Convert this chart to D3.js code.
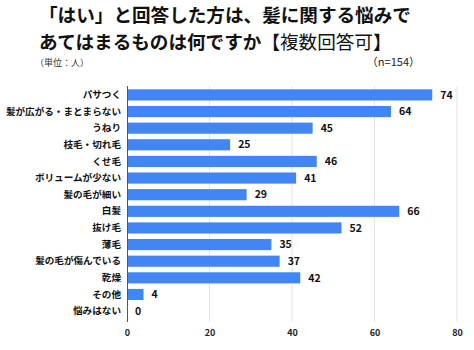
<!DOCTYPE html>
<html>
<head>
<meta charset="utf-8">
<script src="https://cdn.jsdelivr.net/npm/d3@7"></script>
<style>
  body { margin: 0; background: #fff; }
  text { font-family: "Noto Sans CJK JP", sans-serif; }
</style>
</head>
<body>
<script>
var categories = ["パサつく", "髪が広がる・まとまらない", "うねり", "枝毛・切れ毛", "くせ毛",
  "ボリュームが少ない", "髪の毛が細い", "白髪", "抜け毛", "薄毛", "髪の毛が傷んでいる",
  "乾燥", "その他", "悩みはない"];
var values = [74, 64, 45, 25, 46, 41, 29, 66, 52, 35, 37, 42, 4, 0];
var xTicks = [0, 20, 40, 60, 80];

var width = 474, height = 350;
var svg = d3.select("body").append("svg")
  .attr("width", width)
  .attr("height", height);

// title
svg.append("text")
  .attr("x", 39)
  .attr("y", 22)
  .attr("font-size", 18.6)
  .attr("font-weight", "bold")
  .attr("fill", "#111")
  .text("「はい」と回答した方は、髪に関する悩みで");

var title2 = svg.append("text")
  .attr("x", 39)
  .attr("y", 49)
  .attr("font-size", 18.6)
  .attr("fill", "#111");
title2.append("tspan").attr("font-weight", "bold").text("あてはまるものは何ですか");
title2.append("tspan").text("【複数回答可】");

svg.append("text")
  .attr("x", 35)
  .attr("y", 66)
  .attr("font-size", 9)
  .attr("fill", "#333")
  .text("（単位：人）");

svg.append("text")
  .attr("x", 420)
  .attr("y", 66)
  .attr("text-anchor", "end")
  .attr("font-size", 11)
  .attr("fill", "#222")
  .text("（n=154）");

var xScale = d3.scaleLinear()
  .domain([0, 80])
  .range([127, 457]);

var yScale = d3.scaleBand()
  .domain(categories)
  .range([86, 320])
  .paddingInner(0.33)
  .paddingOuter(0.2);

// gridlines
svg.append("g")
  .selectAll("line")
  .data(xTicks.slice(1))
  .join("line")
  .attr("x1", function(d) { return xScale(d); })
  .attr("x2", function(d) { return xScale(d); })
  .attr("y1", 86)
  .attr("y2", 322)
  .attr("stroke", "#e4e4e4")
  .attr("stroke-width", 1);

// bars
svg.append("g")
  .selectAll("rect")
  .data(values)
  .join("rect")
  .attr("x", xScale(0))
  .attr("y", function(d, i) { return yScale(categories[i]); })
  .attr("width", function(d) { return xScale(d) - xScale(0); })
  .attr("height", yScale.bandwidth())
  .attr("fill", "#4285f4");

// baseline
svg.append("line")
  .attr("x1", xScale(0) + 0.5)
  .attr("x2", xScale(0) + 0.5)
  .attr("y1", 86)
  .attr("y2", 322)
  .attr("stroke", "#555");

// value labels
svg.append("g")
  .selectAll("text")
  .data(values)
  .join("text")
  .attr("x", function(d) { return xScale(d) + 8; })
  .attr("y", function(d, i) { return yScale(categories[i]) + yScale.bandwidth() / 2; })
  .attr("dy", "0.35em")
  .attr("font-size", 10.5)
  .attr("font-weight", "bold")
  .attr("fill", "#111")
  .text(function(d) { return d; });

// category labels
var yAxis = svg.append("g")
  .attr("transform", "translate(" + (xScale(0) - 6) + ",0)")
  .call(d3.axisLeft(yScale).tickSize(0).tickPadding(0));
yAxis.select(".domain").remove();
yAxis.selectAll("text")
  .attr("font-size", 9.6)
  .attr("font-weight", "bold")
  .attr("fill", "#111")
  .style("font-family", "'Noto Sans CJK JP', sans-serif");

// x axis
var xAxis = svg.append("g")
  .attr("transform", "translate(0,322)")
  .call(d3.axisBottom(xScale).tickValues(xTicks).tickSize(0).tickPadding(8));
xAxis.select(".domain").remove();
xAxis.selectAll("text")
  .attr("font-size", 9)
  .attr("font-weight", "bold")
  .attr("fill", "#222")
  .style("font-family", "'Noto Sans CJK JP', sans-serif");
</script>
</body>
</html>
